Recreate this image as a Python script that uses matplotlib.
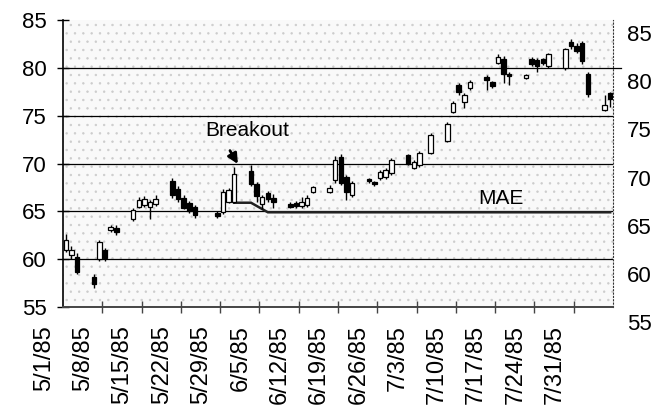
import matplotlib
matplotlib.use('Agg')
import matplotlib.pyplot as plt
from matplotlib.patches import Rectangle
import pandas as pd

# ---------------- data ----------------
dates = ['1985-05-01', '1985-05-02', '1985-05-03', '1985-05-06', '1985-05-07', '1985-05-08',
         '1985-05-09', '1985-05-10', '1985-05-13', '1985-05-14', '1985-05-15', '1985-05-16',
         '1985-05-17', '1985-05-20', '1985-05-21', '1985-05-22', '1985-05-23', '1985-05-24',
         '1985-05-28', '1985-05-29', '1985-05-30', '1985-05-31', '1985-06-03', '1985-06-04',
         '1985-06-05', '1985-06-06', '1985-06-07', '1985-06-10', '1985-06-11', '1985-06-12',
         '1985-06-13', '1985-06-14', '1985-06-17', '1985-06-18', '1985-06-19', '1985-06-20',
         '1985-06-21', '1985-06-24', '1985-06-25', '1985-06-26', '1985-06-27', '1985-06-28',
         '1985-07-01', '1985-07-02', '1985-07-03', '1985-07-05', '1985-07-08', '1985-07-09',
         '1985-07-10', '1985-07-11', '1985-07-12', '1985-07-15', '1985-07-16', '1985-07-17',
         '1985-07-18', '1985-07-19', '1985-07-22', '1985-07-23', '1985-07-24', '1985-07-25',
         '1985-07-26', '1985-07-29', '1985-07-30', '1985-07-31', '1985-08-01', '1985-08-02',
         '1985-08-05', '1985-08-06']
opens = [61.0, 60.4, 60.2, 58.1, 60.0, 61.0, 63.0, 63.3, 64.2, 65.5, 65.7, 65.5,
         65.8, 68.2, 67.3, 66.4, 65.9, 65.5, 64.8, 64.9, 66.0, 66.0, 69.2, 67.9,
         65.8, 66.9, 66.4, 65.8, 65.9, 65.6, 65.7, 67.0, 67.0, 68.3, 70.7, 68.6,
         66.7, 68.4, 68.1, 68.5, 68.6, 69.0, 70.9, 69.5, 69.8, 71.1, 72.4, 75.4,
         78.2, 76.4, 77.9, 79.0, 78.5, 80.5, 80.9, 79.4, 78.9, 80.9, 80.8, 80.9,
         80.2, 80.0, 82.7, 82.3, 82.6, 79.4, 75.6, 77.4]
highs = [62.6, 61.4, 60.6, 58.4, 62.0, 61.2, 63.6, 63.6, 65.3, 66.5, 66.6, 66.2,
         66.7, 68.5, 67.6, 66.7, 66.1, 65.7, 65.0, 67.3, 67.4, 69.6, 69.8, 68.1,
         66.7, 67.1, 66.8, 66.0, 66.1, 66.5, 66.7, 67.6, 67.8, 70.8, 71.0, 68.8,
         68.2, 68.5, 68.2, 69.3, 69.5, 70.6, 71.0, 70.4, 71.3, 73.2, 74.3, 76.5,
         78.4, 77.4, 78.7, 79.2, 78.6, 81.4, 81.2, 79.6, 79.4, 81.1, 81.0, 81.0,
         81.6, 82.1, 83.0, 82.6, 82.8, 79.6, 77.2, 77.5]
lows = [60.8, 60.0, 58.4, 57.0, 59.8, 59.8, 62.8, 62.5, 64.0, 65.3, 65.5, 64.2,
        65.6, 66.4, 66.0, 65.2, 64.8, 64.3, 64.3, 64.7, 65.9, 65.9, 67.6, 66.0,
        65.2, 66.0, 65.4, 65.3, 65.4, 65.4, 65.5, 66.9, 66.9, 68.0, 67.8, 66.2,
        66.5, 68.0, 67.7, 68.3, 68.4, 68.8, 69.8, 69.4, 69.6, 71.0, 72.2, 75.3,
        77.2, 75.8, 77.7, 77.7, 77.9, 80.4, 78.4, 78.2, 78.8, 80.2, 79.6, 80.3,
        80.0, 79.8, 82.0, 81.5, 80.4, 77.0, 75.5, 75.9]
closes = [62.0, 61.0, 58.7, 57.4, 61.8, 60.1, 63.4, 62.8, 65.1, 66.2, 66.3, 66.0,
          66.3, 66.7, 66.3, 65.4, 65.0, 64.6, 64.5, 67.0, 67.2, 68.9, 67.9, 66.6,
          66.5, 66.3, 66.0, 65.5, 65.6, 66.0, 66.4, 67.5, 67.4, 70.4, 68.0, 67.0,
          68.0, 68.2, 67.9, 69.1, 69.3, 70.4, 69.9, 70.2, 71.1, 73.0, 74.1, 76.3,
          77.5, 77.2, 78.5, 78.7, 78.1, 81.1, 79.4, 79.1, 79.2, 80.4, 80.2, 80.5,
          81.4, 82.0, 82.3, 81.8, 80.7, 77.3, 76.1, 76.7]

x_labels = ['5/1/85', '5/8/85', '5/15/85', '5/22/85', '5/29/85', '6/5/85', '6/12/85',
            '6/19/85', '6/26/85', '7/3/85', '7/10/85', '7/17/85', '7/24/85', '7/31/85']
y_ticks = [55, 60, 65, 70, 75, 80, 85]
breakout_date = '1985-05-31'
mae_dates = ['1985-05-31', '1985-06-03', '1985-06-06', '1985-08-06']
mae_values = [65.9, 65.9, 64.9, 64.9]

# ---------------- helpers ----------------
origin = pd.Timestamp('1985-05-01')
def day_off(ds):
    return list((pd.to_datetime(ds) - origin).days.astype(float))

xs = day_off(dates)
lab_x = list((pd.to_datetime(x_labels, format='%m/%d/%y') - origin).days.astype(float))

W, H = 657, 418
fig = plt.figure(figsize=(W / 100, H / 100), dpi=100)
fig.patch.set_facecolor('white')

L, R, T, B = 63, 613, 20, 307
ax = fig.add_axes([L / W, 1 - B / H, (R - L) / W, (B - T) / H])
ax.set_xlim(-0.5, 97.5)
ax.set_ylim(55, 85)

plt.rcParams['hatch.color'] = '#cccccc'
plt.rcParams['hatch.linewidth'] = 0.5
ax.set_facecolor('white')
bg = Rectangle((0, 0), 1, 1, transform=ax.transAxes, facecolor='#f9f9f9',
               edgecolor='#cccccc', hatch='..', lw=0, zorder=0)
ax.add_patch(bg)

# gridlines
for v in [60, 65, 70, 75]:
    ax.axhline(v, color='black', lw=0.9, zorder=1)
ax.axhline(80, xmin=0, xmax=1.015, color='black', lw=0.9, zorder=1, clip_on=False)

# candles
for xi, o, h, l, c in zip(xs, opens, highs, lows, closes):
    ax.vlines(xi, l, h, color='black', lw=1.0, zorder=3)
    up = c >= o
    ax.bar(xi, abs(c - o) if abs(c - o) > 0.15 else 0.15, bottom=min(o, c), width=0.8,
           facecolor='white' if up else 'black', edgecolor='black', lw=0.9, zorder=4)

# MAE line
ax.plot(day_off(mae_dates), mae_values, color='#222222', lw=1.8, zorder=2,
        solid_joinstyle='miter')

# annotations
bx = day_off([breakout_date])[0]
ax.text(bx + 2.3, 73.4, 'Breakout', fontsize=15, family='Liberation Sans',
        ha='center', va='center', zorder=5)
ax.annotate('', xy=(bx + 0.9, 69.7), xytext=(bx - 1.0, 71.6),
            arrowprops=dict(arrowstyle='-|>', color='black', lw=2.0,
                            mutation_scale=15), zorder=5)
ax.text(77.5, 66.3, 'MAE', fontsize=15, family='Liberation Sans',
        ha='center', va='center', zorder=5)

# spines / ticks
ax.spines['left'].set_color('black')
ax.spines['left'].set_linewidth(1.2)
ax.spines['bottom'].set_color('#444444')
ax.spines['bottom'].set_linewidth(1.4)
ax.spines['right'].set_linestyle((0, (1, 2)))
ax.spines['right'].set_color('#333333')
ax.spines['top'].set_visible(False)

ax.set_yticks(y_ticks)
ax.set_yticklabels([str(v) for v in y_ticks], fontsize=16, family='Liberation Sans')
ax.tick_params(axis='y', direction='inout', length=8, width=1, pad=8)
ax.set_xticks([6.5 + 7 * k for k in range(13)])
ax.set_xticklabels([])
ax.tick_params(axis='x', direction='inout', length=8, width=1, color='#444444')

# right-side value labels
ax2 = fig.add_axes([L / W, 1 - 322 / H, (R - L) / W, (322 - 33) / H])
ax2.set_ylim(55, 85)
ax2.patch.set_visible(False)
for s in ax2.spines.values():
    s.set_visible(False)
ax2.set_xticks([])
ax2.yaxis.tick_right()
ax2.set_yticks(y_ticks)
ax2.set_yticklabels([str(v) for v in y_ticks], fontsize=16, family='Liberation Sans')
ax2.tick_params(axis='y', length=0, pad=10)

# date labels (shifted left as in the original)
shift = 21.8
ax3 = fig.add_axes([(L - shift) / W, 1 - B / H, (R - L) / W, (B - T) / H])
ax3.set_xlim(-0.5, 97.5)
ax3.patch.set_visible(False)
for s in ax3.spines.values():
    s.set_visible(False)
ax3.set_yticks([])
ax3.set_xticks(lab_x)
ax3.set_xticklabels(x_labels, rotation=90, fontsize=17, family='Liberation Sans',
                    va='top', ha='center')
ax3.tick_params(axis='x', length=0, pad=13)

fig.savefig('out.png', dpi=100, facecolor='white')
